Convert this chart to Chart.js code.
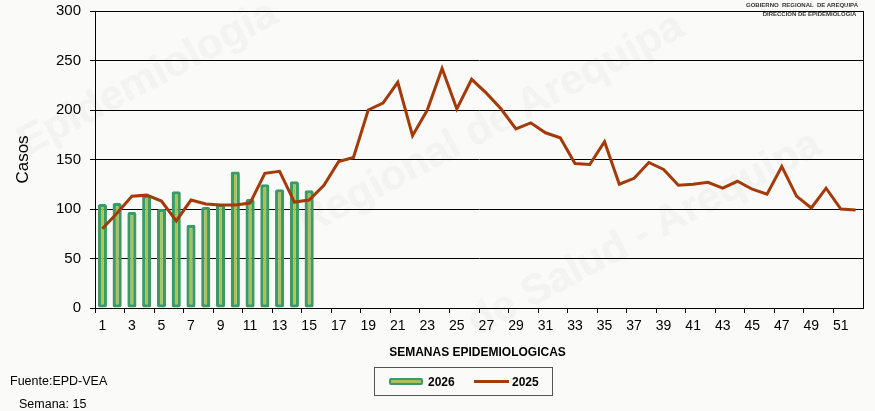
<!DOCTYPE html>
<html>
<head>
<meta charset="utf-8">
<script src="https://cdn.jsdelivr.net/npm/chart.js@4/dist/chart.umd.min.js"></script>
<style>
  html, body { margin: 0; padding: 0; background: #fafaf8; }
  #wrap { position: relative; width: 875px; height: 411px; overflow: hidden; font-family: "Liberation Sans", Arial, sans-serif; }
  canvas { position: absolute; left: 0; top: 0; }
  .txt { position: absolute; color: #000; white-space: nowrap; }
  .wm { position: absolute; color: #f3f3f1; font-weight: bold; font-size: 42px; white-space: nowrap; transform-origin: left center; }
  #org { right: 17px; top: 1px; font-size: 6px; line-height: 9px; text-align: right; font-weight: bold; color: #333; }
  #xtitle { left: 0; width: 955px; top: 345px; text-align: center; font-size: 12px; font-weight: bold; }
  #fuente { left: 10px; top: 374px; font-size: 12.5px; }
  #semana { left: 19px; top: 397px; font-size: 12.5px; }
  #legend { left: 374px; top: 367px; width: 179px; height: 29px; border: 1px solid #555; box-sizing: border-box; }
  .sw { position: absolute; top: 11px; }
  #sw26 { left: 14px; width: 30px; height: 3px; background: #a9c155; border: 2px solid #3a9b66; border-radius: 2px; top: 10px; }
  #sw25 { left: 99px; width: 35px; height: 3px; background: #a33a08; top: 12px; }
  .lt { position: absolute; top: 7px; font-size: 12px; font-weight: bold; }
</style>
</head>
<body>
<div id="wrap">
  <div class="wm" style="left:20px; top:120px; transform: rotate(-28deg);">Epidemiologia</div>
  <div class="wm" style="left:300px; top:200px; transform: rotate(-28deg);">Regional de Arequipa</div>
  <div class="wm" style="left:470px; top:300px; transform: rotate(-28deg);">de Salud - Arequipa</div>
  <canvas id="c" width="875" height="411"></canvas>
  <div class="txt" id="org">GOBIERNO&nbsp; REGIONAL&nbsp; DE AREQUIPA<br>DIRECCION DE EPIDEMIOLOGIA&nbsp;</div>
  <div class="txt" id="xtitle">SEMANAS EPIDEMIOLOGICAS</div>
  <div class="txt" id="fuente">Fuente:EPD-VEA</div>
  <div class="txt" id="semana">Semana: 15</div>
  <div class="txt" id="legend">
    <div class="sw" id="sw26"></div><span class="lt" style="left:53px">2026</span>
    <div class="sw" id="sw25"></div><span class="lt" style="left:137px">2025</span>
  </div>
</div>
<script>
// semanas epidemiologicas 1..52
const weeks = Array.from({ length: 52 }, (_, i) => String(i + 1));

// casos 2026 (hasta semana 15)
const cases2026 = [105, 106, 97, 114, 100, 118, 84, 102, 105, 138, 110, 125, 120, 128, 119];

// casos 2025
const cases2025 = [
  80, 96, 113, 114, 108, 88, 109, 105, 104, 104,
  106, 136, 138, 107, 109, 124, 148, 152, 200, 207,
  228, 174, 200, 242, 201, 231, 217, 201, 181, 187,
  177, 172, 146, 145, 168, 125, 131, 147, 140, 124,
  125, 127, 121, 128, 120, 115, 143, 113, 101, 121,
  100, 99
];

const yTicks = [0, 50, 100, 150, 200, 250, 300];

// draw the box round the plot area
const frame = {
  id: "frame",
  afterDraw(chart) {
    const { ctx, chartArea: a } = chart;
    ctx.save();
    ctx.strokeStyle = "#000";
    ctx.lineWidth = 1;
    ctx.strokeRect(a.left + 0.5, a.top + 0.5, a.right - a.left, a.bottom - a.top);
    ctx.restore();
  },
};

new Chart(document.getElementById("c").getContext("2d"), {
  data: {
    labels: weeks,
    datasets: [
      {
        type: "line",
        label: "2025",
        data: cases2025,
        borderColor: "#a33a08",
        borderWidth: 3,
        pointRadius: 0,
        tension: 0,
        order: 0,
      },
      {
        type: "bar",
        label: "2026",
        data: cases2026,
        backgroundColor: "#a9c155",
        borderColor: "#3a9b66",
        borderWidth: 3.3,
        borderRadius: 2,
        borderSkipped: false,
        barPercentage: 0.62,
        categoryPercentage: 1,
        order: 1,
      },
    ],
  },
  options: {
    responsive: false,
    animation: false,
    layout: { padding: { left: 0, right: 12, top: 11, bottom: 0 } },
    plugins: { legend: { display: false }, tooltip: { enabled: false } },
    scales: {
      x: {
        afterFit: (s) => { s.height = 103; s.paddingLeft = 0; s.paddingRight = 0; },
        grid: {
          display: true,
          drawOnChartArea: false,
          tickLength: 5,
          color: (c) => (c.index % 2 === 0 ? "#000" : "rgba(0,0,0,0)"),
        },
        border: { color: "#000" },
        ticks: {
          autoSkip: false,
          maxRotation: 0,
          padding: 5,
          color: "#000",
          font: { family: "Liberation Sans", size: 14 },
          callback: (v, i) => (i % 2 === 0 ? weeks[i] : ""),
        },
      },
      y: {
        min: 0,
        max: 300,
        afterFit: (s) => { s.width = 95; s.paddingTop = 0; s.paddingBottom = 0; },
        afterBuildTicks: (s) => { s.ticks = yTicks.map((v) => ({ value: v })); },
        grid: { color: "#000", lineWidth: 1, tickLength: 5 },
        border: { color: "#000" },
        ticks: {
          padding: 9,
          color: "#000",
          font: { family: "Liberation Sans", size: 15 },
        },
        title: {
          display: true,
          text: "Casos",
          color: "#000",
          padding: { top: 13, bottom: 0 },
          font: { family: "Liberation Sans", size: 17 },
        },
      },
    },
  },
  plugins: [frame],
});
</script>
</body>
</html>
